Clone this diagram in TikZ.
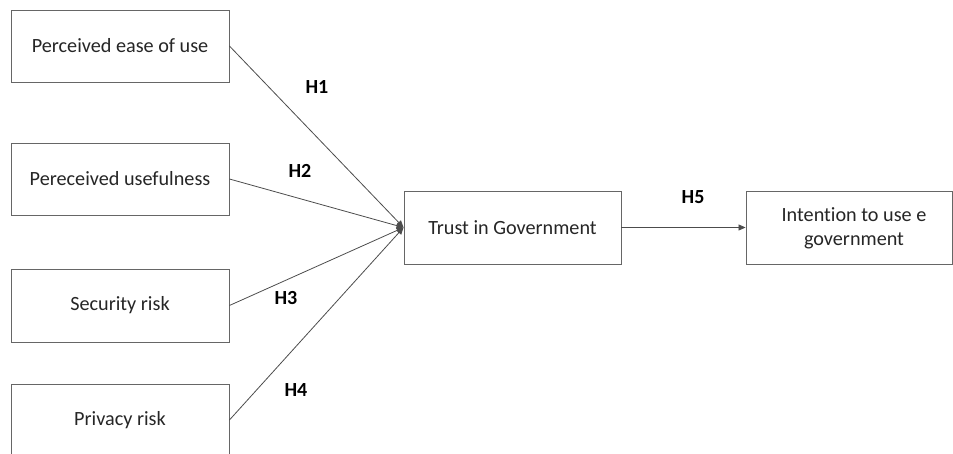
\documentclass[tikz,border=0pt]{standalone}
\usepackage{fontspec}
\setmainfont[Ligatures={NoCommon}]{Carlito}
\usetikzlibrary{arrows.meta}
\begin{document}
\begin{tikzpicture}[x=1pt,y=-1pt,
  box/.style={draw=black!60, line width=0.9pt, fill=white, inner sep=0pt, font=\fontsize{20.2}{24}\selectfont\color{black!85}},
  conn/.style={draw=black!70, line width=0.8pt, -{Triangle[length=7pt,width=6pt]}},
  hlab/.style={font=\fontsize{20}{24}\selectfont\bfseries}]
\useasboundingbox (0,0) rectangle (953,454);
\begin{scope}
\clip (0,0) rectangle (953,454);
\node[box, minimum width=218pt, minimum height=72pt] (peou) at (120,46) {Perceived ease of use};
\node[box, minimum width=218pt, minimum height=72pt] (pu) at (120,179) {Pereceived usefulness};
\node[box, minimum width=218pt, minimum height=73pt] (sr) at (120,305.5) {Security risk};
\node[box, minimum width=218pt, minimum height=72pt] (pr) at (120,420) {Privacy risk};
\node[box, minimum width=217pt, minimum height=73pt] (tg) at (512.5,227.5) {Trust in Government};
\node[box, minimum width=206pt, minimum height=73pt, align=center] (ie) at (849,227.5) {};
\node[font=\fontsize{20.2}{24}\selectfont\color{black!85}, align=center] (iet) at (854,228) {Intention to use e\\government};
\end{scope}
\draw[conn] (peou.east) -- (tg.west);
\draw[conn] (pu.east) -- (tg.west);
\draw[conn] (sr.east) -- (tg.west);
\draw[conn] (pr.east) -- (tg.west);
\draw[conn] (tg.east) -- (ie.west);
\node[hlab] (h1) at (317,87) {H1};
\node[hlab] (h2) at (300,171) {H2};
\node[hlab] (h3) at (286,298) {H3};
\node[hlab] (h4) at (296,390) {H4};
\node[hlab] (h5) at (693,197) {H5};
\end{tikzpicture}
\end{document}
